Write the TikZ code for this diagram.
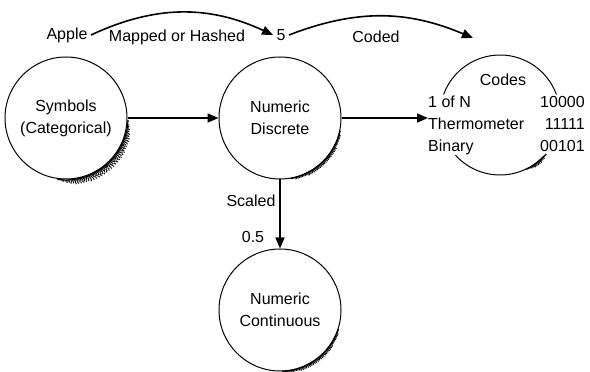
\documentclass[tikz,border=0pt]{standalone}
\usepackage{fontspec}
\setmainfont{Liberation Sans}
\usepackage{tikz}
\usetikzlibrary{arrows.meta,positioning}
\tikzset{
  bubble/.style={circle, draw=black, line width=1pt, minimum size=#1,
                 inner sep=0pt, align=center},
  bubble/.default=122pt,
  flow/.style={-{Triangle[length=11pt,width=9pt]}, line width=1.6pt},
  smudge/.style={line width=1.3pt, dash pattern=on 0.9pt off #1},
  smudge/.default=0.5pt,
}

\begin{document}
\begin{tikzpicture}[x=1pt,y=1pt,font=\fontsize{16}{22}\selectfont]
  \useasboundingbox (0,0) rectangle (590,372);
  \node[bubble] (sym)  at (66,254)  {Symbols\\(Categorical)};
  \node[bubble] (disc) at (280,254) {Numeric\\Discrete};
  \node[bubble] (cont) at (280,62)  {Numeric\\Continuous};
  % codes circle, only partly drawn
  \coordinate (cc) at (500,257);
  \draw[line width=1pt] ([shift={(160:60)}]cc) arc[start angle=160, end angle=20, radius=60];
  \draw[line width=1pt] ([shift={(222:60)}]cc) arc[start angle=222, end angle=317, radius=60];
  \node (ctitle) at (503,292) {Codes};
  \node[anchor=west, inner sep=0pt] (codes) at (428,247)
    {\begin{tabular}{@{}l@{\hspace{16pt}}r@{}}
       1 of N & 10000\\ Thermometer & 11111\\ Binary & 00101
     \end{tabular}};
  % top labels
  \node (apple) at (67,337)  {Apple};
  \node (five)  at (281,337) {5};
  \node (map)   at (177,335) {Mapped or Hashed};
  \node (coded) at (376,335) {Coded};
  \coordinate (ctop) at (473,334);
  \node (scl)  at (251,171) {Scaled};
  \node (half) at (253,135) {0.5};
  % arrows
  \draw[flow] (apple.east) to[bend left=25] (five.west);
  \draw[flow] (five.east) to[bend left=22] (ctop);
  \draw[flow] (sym) -- (disc);
  \draw[flow] (disc.east) -- (disc.east -| codes.west);
  \draw[flow] (disc) -- (cont);
  % rough shadows under the circles
  \foreach \c/\a/\b/\r/\n in {sym/-2/-98/62/5, disc/-12/-80/61.5/2,
      cont/-18/-88/61.5/2, cc/-40/-64/60.5/2}
    \foreach \k in {0,...,\n} {
      \pgfmathsetmacro{\rr}{\r+1.1*\k}
      \pgfmathsetmacro{\aa}{\a-4*\k-(\k==\n)*8}
      \pgfmathsetmacro{\bb}{\b+4*\k+(\k==\n)*8}
      \pgfmathsetmacro{\gap}{0.3+0.35*\k}
      \draw[smudge=\gap pt] ([shift={(\aa:\rr)}]\c.center)
        arc[start angle=\aa, end angle=\bb, radius=\rr];
    }
\end{tikzpicture}
\end{document}
